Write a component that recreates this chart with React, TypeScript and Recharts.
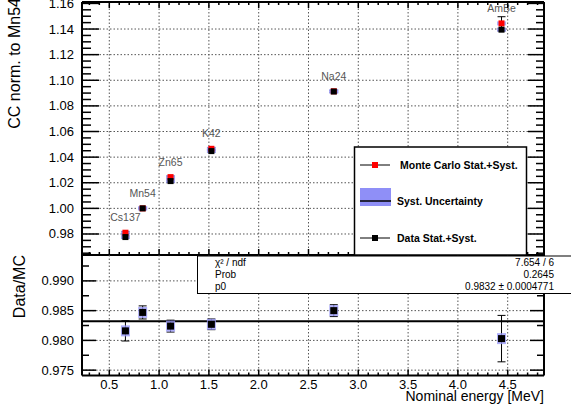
import React from 'react';
import { ComposedChart, Scatter, XAxis, YAxis, ErrorBar, ReferenceLine } from 'recharts';

// calibration sources, nominal gamma energy in MeV
const sources = ['Cs137', 'Mn54', 'Zn65', 'K42', 'Na24', 'AmBe'];
const energies = [0.662, 0.835, 1.115, 1.525, 2.754, 4.438];

// top panel: CC normalised to Mn54
const mcValues = [0.981, 1.0, 1.0244, 1.0465, 1.0914, 1.1444];
const mcErrors = [0.0008, 0.0004, 0.0008, 0.0008, 0.0008, 0.0052];
const dataValues = [0.9776, 1.0, 1.0213, 1.0447, 1.0912, 1.1395];
const dataErrors = [0.0008, 0.0004, 0.0008, 0.0008, 0.0008, 0.001];

// bottom panel: Data/MC with constant fit
const ratioValues = [0.9816, 0.9847, 0.9824, 0.9827, 0.985, 0.9803];
const ratioErrors = [0.0017, 0.0011, 0.001, 0.0009, 0.001, 0.0039];
const fitP0 = 0.9832;
const fitLabels = ['χ² / ndf', 'Prob', 'p0'];
const fitValues = ['7.654 / 6', '0.2645', '0.9832 ± 0.0004771'];

const xMajor = [0.5, 1.0, 1.5, 2.0, 2.5, 3.0, 3.5, 4.0, 4.5];
const topMajor = [0.98, 1.0, 1.02, 1.04, 1.06, 1.08, 1.1, 1.12, 1.14, 1.16];
const ratioMajor = [0.975, 0.98, 0.985, 0.99];

const xDomain = [0.226, 4.8645];
const topDomain = [0.9636, 1.1611];
const ratioDomain = [0.9741, 0.99435];

const steps = (from: number, to: number, step: number) => {
  const out: number[] = [];
  for (let v = from; v <= to + step / 100; v += step) out.push(Number(v.toFixed(5)));
  return out;
};
const xTicks = steps(0.3, 4.8, 0.1);
const topTicks = steps(0.965, 1.16, 0.005);
const ratioTicks = steps(0.975, 0.9925, 0.0025);

const FONT = '"Liberation Sans", Arial, sans-serif';

const mcRows = sources.map((name, i) => ({ name, x: energies[i], y: mcValues[i], err: mcErrors[i] }));
const dataRows = sources.map((name, i) => ({ name, x: energies[i], y: dataValues[i], err: dataErrors[i] }));
const ratioRows = sources.map((name, i) => ({ name, x: energies[i], y: ratioValues[i], err: ratioErrors[i] }));

const isMajor = (v: number, majors: number[]) => majors.some((m) => Math.abs(m - v) < 1e-7);

type Side = 'left' | 'right' | 'top' | 'bottom';
const axisTick =
  (side: Side, majors: number[], majLen: number, minLen: number, fmt?: (v: number) => string) =>
  (props: any) => {
    const { x, y, payload } = props;
    const v = payload.value;
    const major = isMajor(v, majors);
    const len = major ? majLen : minLen;
    let ln;
    if (side === 'left') ln = <line x1={x} x2={x + len} y1={y} y2={y} stroke="#000" strokeWidth={1.5} />;
    else if (side === 'right') ln = <line x1={x} x2={x - len} y1={y} y2={y} stroke="#000" strokeWidth={1.5} />;
    else if (side === 'top') ln = <line x1={x} x2={x} y1={y} y2={y + len} stroke="#000" strokeWidth={1.5} />;
    else ln = <line x1={x} x2={x} y1={y} y2={y - len} stroke="#000" strokeWidth={1.5} />;
    let label = null;
    if (major && fmt) {
      label =
        side === 'left' ? (
          <text x={x - 8} y={y + 4.5} textAnchor="end" fontSize={13} fontFamily={FONT} fill="#000">
            {fmt(v)}
          </text>
        ) : (
          <text x={x} y={y + 13.5} textAnchor="middle" fontSize={13} fontFamily={FONT} fill="#000">
            {fmt(v)}
          </text>
        );
    }
    return (
      <g>
        {ln}
        {label}
      </g>
    );
  };

const frame = { stroke: '#000', strokeWidth: 2 };
const gridStyle = { stroke: '#555', strokeDasharray: '1.5 2', strokeWidth: 1 };

const SystBox = (w: number, h: number) => (p: any) => (
  <rect x={p.cx - w / 2} y={p.cy - h / 2} width={w} height={h} fill="#9a9af7" opacity={0.8} />
);

const McPoint = (p: any) => (
  <g>
    <rect x={p.cx - 3} y={p.cy - 3} width={6} height={6} fill="#ff0000" />
    <text x={p.cx} y={p.cy - 11.5} textAnchor="middle" fontSize={10.5} fontFamily={FONT} fill="#555">
      {p.payload.name}
    </text>
  </g>
);

const DataPoint = (size: number) => (p: any) => (
  <rect x={p.cx - size / 2} y={p.cy - size / 2} width={size} height={size} fill="#000" />
);

const TopPanel = () => (
  <ComposedChart width={571} height={256} margin={{ top: 1, right: 26, left: 0, bottom: 0 }}>
    <XAxis
      xAxisId={0}
      dataKey="x"
      type="number"
      domain={xDomain}
      allowDataOverflow
      ticks={xTicks}
      interval={0}
      height={1}
      tickSize={0}
      tickMargin={0}
      axisLine={frame}
      tickLine={false}
      tick={axisTick('bottom', xMajor, 6, 3)}
    />
    <XAxis
      xAxisId="t"
      dataKey="x"
      type="number"
      orientation="top"
      domain={xDomain}
      allowDataOverflow
      ticks={xTicks}
      interval={0}
      height={1}
      tickSize={0}
      tickMargin={0}
      axisLine={frame}
      tickLine={false}
      tick={axisTick('top', xMajor, 6, 3)}
    />
    <YAxis
      yAxisId={0}
      dataKey="y"
      type="number"
      domain={topDomain}
      allowDataOverflow
      ticks={topTicks}
      interval={0}
      width={82}
      tickSize={0}
      tickMargin={0}
      axisLine={frame}
      tickLine={false}
      tick={axisTick('left', topMajor, 17, 9, (v) => v.toFixed(2))}
    />
    <YAxis
      yAxisId="r"
      dataKey="y"
      type="number"
      orientation="right"
      domain={topDomain}
      allowDataOverflow
      ticks={topTicks}
      interval={0}
      width={1}
      tickSize={0}
      tickMargin={0}
      axisLine={frame}
      tickLine={false}
      tick={axisTick('right', topMajor, 16, 8)}
    />
    {topMajor.slice(0, -1).map((v) => (
      <ReferenceLine key={'h' + v} y={v} {...gridStyle} />
    ))}
    {xMajor.map((v) => (
      <ReferenceLine key={'v' + v} x={v} {...gridStyle} />
    ))}
    <Scatter data={mcRows} shape={SystBox(9, 4)} isAnimationActive={false} />
    <Scatter data={dataRows} shape={SystBox(9, 4)} isAnimationActive={false} />
    <Scatter data={mcRows} shape={McPoint} isAnimationActive={false}>
      <ErrorBar dataKey="err" direction="y" width={4} stroke="#000" strokeWidth={1} />
    </Scatter>
    <Scatter data={dataRows} shape={DataPoint(6)} isAnimationActive={false}>
      <ErrorBar dataKey="err" direction="y" width={4} stroke="#000" strokeWidth={1} />
    </Scatter>
  </ComposedChart>
);

const RatioPanel = () => (
  <ComposedChart width={571} height={159} margin={{ top: 0, right: 26, left: 0, bottom: 0 }}>
    <XAxis
      xAxisId={0}
      dataKey="x"
      type="number"
      domain={xDomain}
      allowDataOverflow
      ticks={xTicks}
      interval={0}
      height={38.5}
      tickSize={0}
      tickMargin={0}
      axisLine={frame}
      tickLine={false}
      tick={axisTick('bottom', xMajor, 6, 3, (v) => v.toFixed(1))}
    />
    <YAxis
      yAxisId={0}
      dataKey="y"
      type="number"
      domain={ratioDomain}
      allowDataOverflow
      ticks={ratioTicks}
      interval={0}
      width={82}
      tickSize={0}
      tickMargin={0}
      axisLine={frame}
      tickLine={false}
      tick={axisTick('left', ratioMajor, 14, 7, (v) => v.toFixed(3))}
    />
    <YAxis
      yAxisId="r"
      dataKey="y"
      type="number"
      orientation="right"
      domain={ratioDomain}
      allowDataOverflow
      ticks={ratioTicks}
      interval={0}
      width={1}
      tickSize={0}
      tickMargin={0}
      axisLine={frame}
      tickLine={false}
      tick={axisTick('right', ratioMajor, 14, 7)}
    />
    {ratioMajor.map((v) => (
      <ReferenceLine key={'h' + v} y={v} {...gridStyle} />
    ))}
    {xMajor.map((v) => (
      <ReferenceLine key={'v' + v} x={v} {...gridStyle} />
    ))}
    <ReferenceLine y={fitP0} stroke="#000" strokeWidth={2} />
    <Scatter data={ratioRows} shape={SystBox(9, 11)} isAnimationActive={false} />
    <Scatter data={ratioRows} shape={DataPoint(7)} isAnimationActive={false}>
      <ErrorBar dataKey="err" direction="y" width={4} stroke="#000" strokeWidth={1} />
    </Scatter>
  </ComposedChart>
);

const Overlay = () => (
  <svg width={571} height={414} style={{ position: 'absolute', left: 0, top: 0, pointerEvents: 'none' }} fontFamily={FONT}>
    <text transform="translate(20,-2) rotate(-90)" textAnchor="end" fontSize={16} fill="#000">
      CC norm. to Mn54
    </text>
    <text transform="translate(25,255) rotate(-90)" textAnchor="end" fontSize={16} fill="#000">
      Data/MC
    </text>
    <text x={544} y={401} textAnchor="end" fontSize={14} fill="#000">
      Nominal energy [MeV]
    </text>

    {/* legend */}
    <rect x={354.5} y={147} width={172} height={108} fill="#fff" stroke="#000" strokeWidth={1.5} />
    <line x1={360} x2={390} y1={165} y2={165} stroke="#000" />
    <rect x={372} y={162} width={6} height={6} fill="#ff0000" />
    <text x={400} y={168.5} fontSize={10.5} fontWeight="bold">
      Monte Carlo Stat.+Syst.
    </text>
    <rect x={360} y={188} width={31} height={18} fill="#8f8ff7" />
    <line x1={360} x2={391} y1={201} y2={201} stroke="#000" strokeWidth={1.5} />
    <text x={397} y={205} fontSize={10.5} fontWeight="bold">
      Syst. Uncertainty
    </text>
    <line x1={360} x2={390} y1={238} y2={238} stroke="#000" />
    <rect x={372} y={235} width={6} height={6} fill="#000" />
    <text x={397} y={241.5} fontSize={10.5} fontWeight="bold">
      Data Stat.+Syst.
    </text>

    {/* fit statistics box */}
    <rect x={197.5} y={256} width={380} height={37.5} fill="#fff" stroke="#000" strokeWidth={1} />
    {fitLabels.map((t, i) => (
      <text key={t} x={215} y={266 + i * 11.8} fontSize={10} fill="#000">
        {t}
      </text>
    ))}
    {fitValues.map((t, i) => (
      <text key={t} x={554} y={266 + i * 11.8} fontSize={10} textAnchor="end" fill="#000">
        {t}
      </text>
    ))}
  </svg>
);

export default function App() {
  return (
    <div style={{ position: 'absolute', left: 0, top: 0, width: 571, height: 414, overflow: 'hidden', background: '#fff' }}>
      <div style={{ position: 'absolute', left: 0, top: 0 }}>
        <TopPanel />
      </div>
      <div style={{ position: 'absolute', left: 0, top: 255 }}>
        <RatioPanel />
      </div>
      <Overlay />
    </div>
  );
}
